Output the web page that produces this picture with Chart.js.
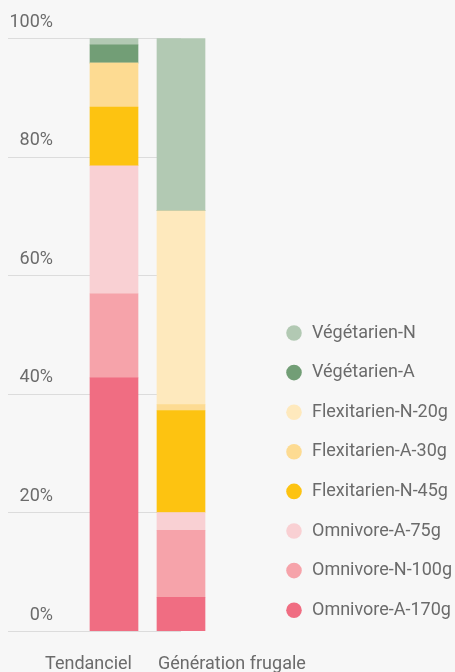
<!DOCTYPE html>
<html><head><meta charset="utf-8">
<script src="https://cdn.jsdelivr.net/npm/chart.js@4"></script>
<style>
html,body{margin:0;padding:0;background:#f7f7f7;}
#wrap{width:455px;height:672px;position:relative;}
</style></head><body>
<div id="wrap"><canvas id="c"></canvas></div>
<script>
// ---- data (bottom of stack first) ----
const categories = ['Tendanciel', 'Génération frugale'];
const seriesNames = ['Omnivore-A-170g', 'Omnivore-N-100g', 'Omnivore-A-75g', 'Flexitarien-N-45g',
                     'Flexitarien-A-30g', 'Flexitarien-N-20g', 'Végétarien-A', 'Végétarien-N'];
const omnivoreA170   = [42.7, 5.7];
const omnivoreN100   = [14.2, 11.3];
const omnivoreA75    = [21.6, 3.0];
const flexitarienN45 = [9.9, 17.2];
const flexitarienA30 = [7.4, 1.0];
const flexitarienN20 = [0, 32.7];
const vegetarienA    = [3.1, 0];
const vegetarienN    = [1.1, 29.1];
const seriesValues = [omnivoreA170, omnivoreN100, omnivoreA75, flexitarienN45,
                      flexitarienA30, flexitarienN20, vegetarienA, vegetarienN];
const yMin = 0, yMax = 100, yStep = 20;

// ---- styles ----
const colors = ['#f06d82', '#f6a3aa', '#f9d0d3', '#fdc311', '#fddb92', '#fee9bd', '#729e76', '#b2c9b3'];
const FONT = 'Roboto, "Noto Sans", sans-serif';
const TEXT = '#6b6b6b';
Chart.defaults.font.family = FONT;

const gridPlugin = {
  id: 'leftGrid',
  beforeDatasetsDraw(chart) {
    const {ctx, scales} = chart;
    const x = scales.x, y = scales.y;
    const xEnd = x.getPixelForValue(categories.length - 1);
    ctx.save();
    ctx.strokeStyle = '#dcdcdc';
    ctx.lineWidth = 1;
    y.ticks.forEach(t => {
      const py = Math.round(y.getPixelForValue(t.value)) + 0.5;
      ctx.beginPath();
      ctx.moveTo(y.left, py);
      ctx.lineTo(xEnd, py);
      ctx.stroke();
    });
    ctx.restore();
  }
};

const tickFont = {family: FONT, size: 18};
const zeroPad = s => { s.paddingLeft = 0; s.paddingRight = 0; s.paddingTop = 0; s.paddingBottom = 0; };

new Chart(document.getElementById('c'), {
  type: 'bar',
  data: {
    labels: categories,
    datasets: seriesValues.map((d, i) => ({
      label: seriesNames[i], data: d, backgroundColor: colors[i],
      borderWidth: 0, barThickness: 48, xAxisID: 'x', yAxisID: 'y'
    }))
  },
  options: {
    responsive: true, maintainAspectRatio: false, animation: false,
    layout: {padding: {left: 8, right: 0, top: 37, bottom: 0}},
    scales: {
      x: {
        stacked: true, position: 'bottom', offset: true,
        grid: {display: false, drawTicks: false}, border: {display: false},
        ticks: {autoSkip: false, maxRotation: 0, align: 'end', labelOffset: 18, padding: 22.5,
                color: TEXT, font: tickFont,
                callback: (v, i) => i === 0 ? categories[i] : ''},
        afterFit: s => { s.height = 41; zeroPad(s); }
      },
      xg: {
        type: 'category', position: {y: 0}, offset: true,
        grid: {display: false, drawTicks: false}, border: {display: false},
        ticks: {autoSkip: false, maxRotation: 0, align: 'start', labelOffset: -23, padding: 22.5,
                color: TEXT, font: tickFont,
                callback: (v, i) => i === 1 ? categories[i] : ''},
        afterFit: zeroPad
      },
      y: {
        stacked: true, min: yMin, max: yMax, position: 'left',
        grid: {display: false, drawTicks: false}, border: {display: false},
        ticks: {stepSize: yStep, padding: 27.5, labelOffset: -16, color: TEXT, font: tickFont,
                callback: v => v + '%'},
        afterFit: s => { s.width = 72.5; }
      },
      gap: {
        type: 'linear', position: 'right', display: true,
        grid: {display: false, drawTicks: false}, border: {display: false}, ticks: {display: false},
        afterFit: s => { s.width = 48.9; zeroPad(s); }
      }
    },
    plugins: {
      legend: {
        position: 'right', align: 'start', reverse: true, maxWidth: 191.6,
        title: {display: true, text: '', font: {size: 10, lineHeight: 1}, padding: {top: 255.4, bottom: 0}},
        labels: {usePointStyle: true, pointStyle: 'circle', boxWidth: 18, boxHeight: 11,
                 padding: 21.6, color: TEXT, font: {family: FONT, size: 18}}
      },
      tooltip: {enabled: false}
    }
  },
  plugins: [gridPlugin]
});
</script>
</body></html>
